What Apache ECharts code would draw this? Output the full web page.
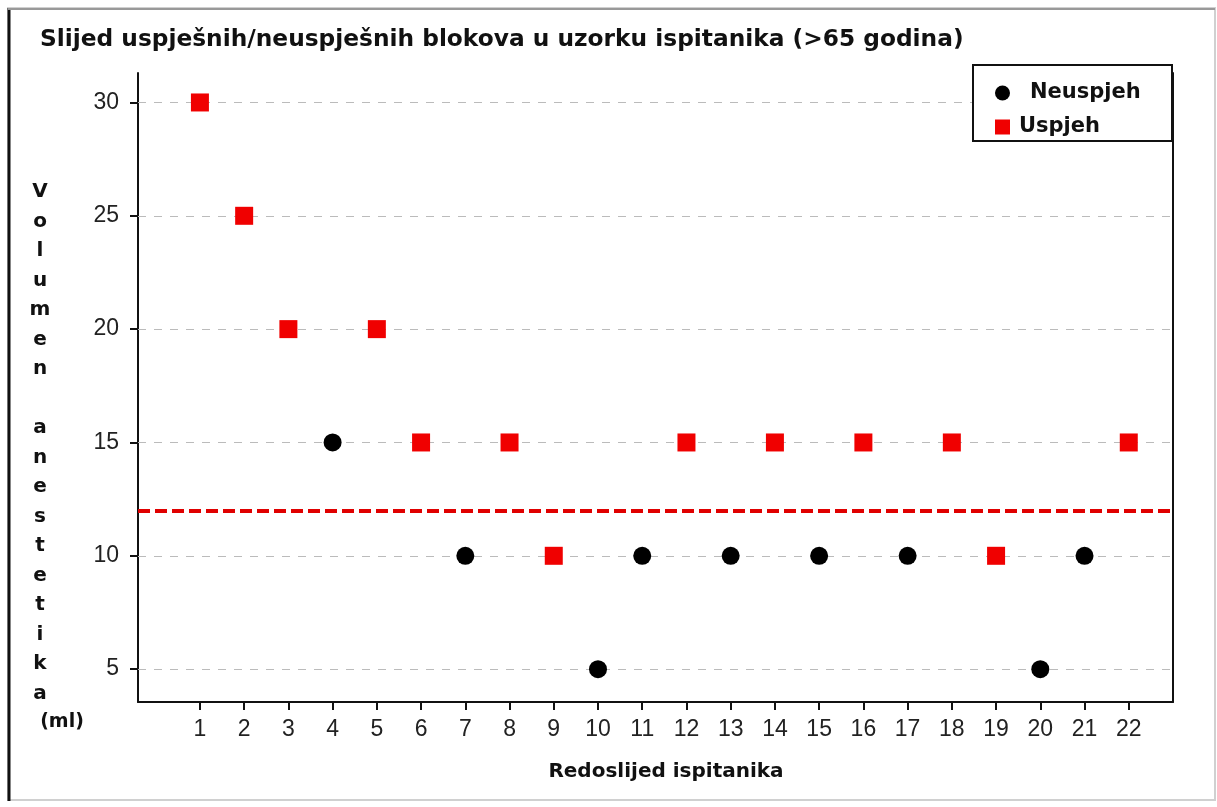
<!DOCTYPE html>
<html>
<head>
<meta charset="utf-8">
<script src="https://cdn.jsdelivr.net/npm/echarts@6/dist/echarts.min.js"></script>
<style>html,body{margin:0;padding:0;background:#fff;}#c{width:1217px;height:807px;}</style>
</head>
<body>
<div id="c"></div>
<script>
const titleText = 'Slijed uspješnih/neuspješnih blokova u uzorku ispitanika (>65 godina)';
const xName = 'Redoslijed ispitanika';
const yNameLetters = ['V','o','l','u','m','e','n','','a','n','e','s','t','e','t','i','k','a'];
const yUnit = '(ml)';
const seriesNames = ['Neuspjeh', 'Uspjeh'];
const successX = [1, 2, 3, 5, 6, 8, 9, 12, 14, 16, 18, 19, 22];
const successY = [30, 25, 20, 20, 15, 15, 10, 15, 15, 15, 15, 10, 15];
const failX = [4, 7, 10, 11, 13, 15, 17, 20, 21];
const failY = [15, 10, 5, 10, 10, 10, 10, 5, 10];
const xTicks = [1,2,3,4,5,6,7,8,9,10,11,12,13,14,15,16,17,18,19,20,21,22];
const yTicks = [5, 10, 15, 20, 25, 30];
const threshold = 12;

const FONT = 'DejaVu Sans';
const TICKFONT = 'Liberation Sans';
const chart = echarts.init(document.getElementById('c'), null, {renderer: 'canvas'});

const successData = successX.map((x, i) => [x, successY[i]]);
const failData = failX.map((x, i) => [x, failY[i]]);

chart.setOption({
  animation: false,
  backgroundColor: '#fff',
  title: {
    text: titleText,
    left: 40, top: 28, padding: 0,
    textStyle: {fontFamily: FONT, fontSize: 23.3, fontWeight: 'bold', color: '#111'}
  },
  legend: {
    data: seriesNames,
    orient: 'vertical',
    left: 995, top: 82, padding: 0,
    itemWidth: 15, itemHeight: 15, itemGap: 12,
    z: 12,
    formatter: n => n === 'Neuspjeh' ? '{a|' + n + '}' : '{b|' + n + '}',
    textStyle: {
      fontFamily: FONT, fontSize: 21, fontWeight: 'bold', color: '#111', lineHeight: 22,
      rich: {
        a: {fontFamily: FONT, fontSize: 21, fontWeight: 'bold', color: '#111', padding: [0,0,0,15]},
        b: {fontFamily: FONT, fontSize: 21, fontWeight: 'bold', color: '#111', padding: [0,0,0,4]}
      }
    }
  },
  grid: {left: 138, right: 44, top: 73, bottom: 105, containLabel: false},
  xAxis: {
    type: 'value', min: -0.4, max: 23,
    axisLine: {show: true, onZero: false, lineStyle: {color: '#111', width: 2}},
    axisTick: {show: true, customValues: xTicks, length: 8, lineStyle: {color: '#111', width: 2}},
    axisLabel: {customValues: xTicks, margin: 16, fontFamily: TICKFONT, fontSize: 23, color: '#222'},
    splitLine: {show: false}
  },
  yAxis: [{
    type: 'value', min: 3.55, max: 31.3,
    axisLine: {show: true, onZero: false, lineStyle: {color: '#111', width: 2}},
    axisTick: {show: true, customValues: yTicks, length: 8, lineStyle: {color: '#111', width: 2}},
    axisLabel: {customValues: yTicks, margin: 19, fontFamily: TICKFONT, fontSize: 23, color: '#222'},
    splitLine: {show: false}
  }, {
    type: 'value', min: 3.55, max: 31.3, position: 'right',
    axisLine: {show: true, onZero: false, lineStyle: {color: '#111', width: 2}},
    axisTick: {show: false}, axisLabel: {show: false}, splitLine: {show: false}
  }],
  series: [{
    name: 'Neuspjeh', type: 'scatter', data: failData,
    symbol: 'circle', symbolSize: 18,
    itemStyle: {color: '#000', opacity: 1}, z: 4,
    markLine: {
      silent: true, symbol: 'none', label: {show: false}, animation: false, z: 1,
      lineStyle: {color: '#bbb', width: 1, type: [8, 8]},
      data: yTicks.map(v => ({yAxis: v}))
    }
  }, {
    name: 'Uspjeh', type: 'scatter', data: successData,
    symbol: 'rect', symbolSize: 18,
    itemStyle: {color: '#f00000', opacity: 1}, z: 4,
    markLine: {
      silent: true, symbol: 'none', label: {show: false}, animation: false, z: 3,
      lineStyle: {color: '#e00000', width: 4, type: [12, 5]},
      data: [{yAxis: threshold}]
    }
  }],
  graphic: [
    {type: 'rect', z: 0, shape: {x: 8, y: 8, width: 1207, height: 792}, style: {fill: 'none', stroke: '#d0d0d0', lineWidth: 2}},
    {type: 'line', z: 1, shape: {x1: 9, y1: 8, x2: 9, y2: 801}, style: {stroke: '#111', lineWidth: 3}},
    {type: 'line', z: 1, shape: {x1: 8, y1: 9, x2: 1215, y2: 9}, style: {stroke: '#999', lineWidth: 2}},
    {type: 'rect', z: 10, shape: {x: 973, y: 65, width: 199, height: 76}, style: {fill: '#fff', stroke: '#111', lineWidth: 2}},
    {type: 'text', z: 5, x: 40, y: 192 - 14.75, style: {text: yNameLetters.join('\n'), fontFamily: FONT, fontSize: 20, fontWeight: 'bold', fill: '#111', align: 'center', verticalAlign: 'top', lineHeight: 29.5}},
    {type: 'text', z: 5, x: 62, y: 722, style: {text: yUnit, fontFamily: FONT, fontSize: 19, fontWeight: 'bold', fill: '#111', align: 'center', verticalAlign: 'middle'}},
    {type: 'text', z: 5, x: 666, y: 772, style: {text: xName, fontFamily: FONT, fontSize: 20, fontWeight: 'bold', fill: '#111', align: 'center', verticalAlign: 'middle'}}
  ]
});
</script>
</body>
</html>
